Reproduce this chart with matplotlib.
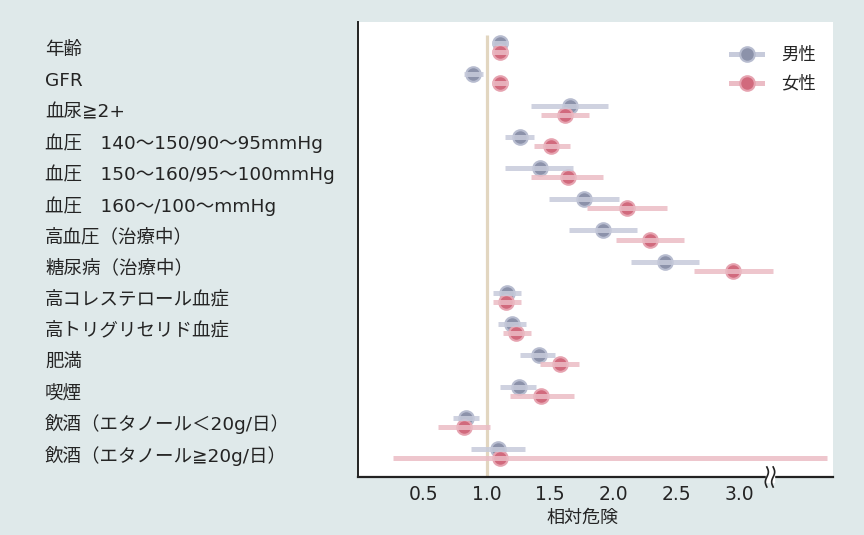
import matplotlib
matplotlib.use("Agg")
import matplotlib.pyplot as plt
from matplotlib.lines import Line2D
import numpy as np

plt.rcParams['font.family'] = ['DejaVu Sans', 'Noto Sans CJK JP']

labels = ["年齢", "GFR", "血尿≧2+",
          "血圧　140〜150/90〜95mmHg",
          "血圧　150〜160/95〜100mmHg",
          "血圧　160〜/100〜mmHg",
          "高血圧（治療中）", "糖尿病（治療中）",
          "高コレステロール血症", "高トリグリセリド血症",
          "肥満", "喫煙",
          "飲酒（エタノール＜20g/日）", "飲酒（エタノール≧20g/日）"]

male_rr = [1.10, 0.89, 1.66, 1.26, 1.42, 1.77, 1.92, 2.41, 1.16, 1.20, 1.41, 1.25, 0.83, 1.09]
male_lo = [1.04, 0.82, 1.35, 1.14, 1.14, 1.49, 1.65, 2.14, 1.05, 1.09, 1.26, 1.10, 0.73, 0.87]
male_hi = [1.17, 0.97, 1.96, 1.37, 1.68, 2.05, 2.19, 2.68, 1.27, 1.31, 1.54, 1.39, 0.94, 1.30]

female_rr = [1.10, 1.10, 1.62, 1.51, 1.64, 2.11, 2.29, 2.95, 1.15, 1.23, 1.58, 1.43, 0.82, 1.10]
female_lo = [1.04, 1.04, 1.43, 1.37, 1.35, 1.79, 2.02, 2.64, 1.05, 1.13, 1.42, 1.18, 0.61, 0.25]
female_hi = [1.17, 1.17, 1.81, 1.66, 1.92, 2.43, 2.56, 3.27, 1.27, 1.35, 1.73, 1.69, 1.02, 3.70]

xticks = [0.5, 1.0, 1.5, 2.0, 2.5, 3.0]
xtick_labels = ["0.5", "1.0", "1.5", "2.0", "2.5", "3.0"]
series_names = ["男性", "女性"]

W, H = 864, 535
fig = plt.figure(figsize=(W / 100, H / 100), dpi=100)
bg = '#dfe9ea'
fig.patch.set_facecolor(bg)

ax_l, ax_r, ax_t, ax_b = 358, 833, 22, 477
ax = fig.add_axes([ax_l / W, 1 - ax_b / H, (ax_r - ax_l) / W, (ax_b - ax_t) / H])
ax.set_facecolor('white')

txt = '#242424'
m_face, m_edge, m_line = '#8c92aa', '#b7bccf', '#c7cbdb'
f_face, f_edge, f_line = '#d16a7d', '#e6a3b0', '#ebbcc5'

y = np.arange(len(labels))
off = 0.145

# reference line
ax.vlines(1.0, -0.40, 13.75, color='#e2d6c0', lw=2.3, zorder=1)

for vals, lo, hi, dy, fc, ec, lc in [
        (male_rr, male_lo, male_hi, -off, m_face, m_edge, m_line),
        (female_rr, female_lo, female_hi, off, f_face, f_edge, f_line)]:
    ax.plot(vals, y + dy, 'o', ms=10.5, mfc=fc, mec=ec, mew=1.5, zorder=3, ls='none')
    ax.hlines(y + dy, lo, hi, color=lc, lw=3.6, alpha=0.85, zorder=4)

ax.set_xlim(-0.024, 3.746)
ax.set_ylim(13.75, -0.82)

ax.set_xticks(xticks)
ax.set_xticklabels(xtick_labels, fontsize=13.5, color=txt)
ax.tick_params(axis='x', length=0, pad=6)

ax.set_yticks(y)
ax.set_yticklabels(labels, fontsize=13.3, color=txt)
ax.tick_params(axis='y', length=0, pad=(ax_l - 45) * 0.72)
for t in ax.get_yticklabels():
    t.set_ha('left')

ax.set_xlabel("相対危険", fontsize=13, color=txt, labelpad=2)
ax.xaxis.set_label_coords((582 - ax_l) / (ax_r - ax_l), -0.07)

for s in ['top', 'right']:
    ax.spines[s].set_visible(False)
ax.spines['left'].set_color('#222222')
ax.spines['left'].set_linewidth(1.4)
ax.spines['bottom'].set_color('#222222')
ax.spines['bottom'].set_linewidth(1.6)

# axis break mark
xb = 3.246
ax.fill_between([xb - 0.035, xb + 0.035], [-0.01, -0.01], [0.01, 0.01],
                color='white', transform=ax.get_xaxis_transform(), clip_on=False, zorder=5)
tt = np.linspace(-1, 1, 30)
for dx in (-0.025, 0.025):
    ax.plot(xb + dx + 0.012 * np.sin(tt * np.pi), tt * 0.022,
            color='#222222', lw=1.2, transform=ax.get_xaxis_transform(),
            clip_on=False, zorder=6)

handles = [Line2D([], [], color=m_line, lw=3.6, marker='o', ms=10.5, mfc=m_face, mec=m_edge, mew=1.5),
           Line2D([], [], color=f_line, lw=3.6, marker='o', ms=10.5, mfc=f_face, mec=f_edge, mew=1.5)]
leg = ax.legend(handles, series_names, loc='upper right', frameon=False,
                bbox_to_anchor=(816 / W, 1 - 46 / H), bbox_transform=fig.transFigure,
                fontsize=12.5, handlelength=1.8, handletextpad=1.1,
                labelspacing=0.62, borderpad=0, borderaxespad=0)
for t in leg.get_texts():
    t.set_color(txt)

fig.savefig("out.png", dpi=100, facecolor=bg)
